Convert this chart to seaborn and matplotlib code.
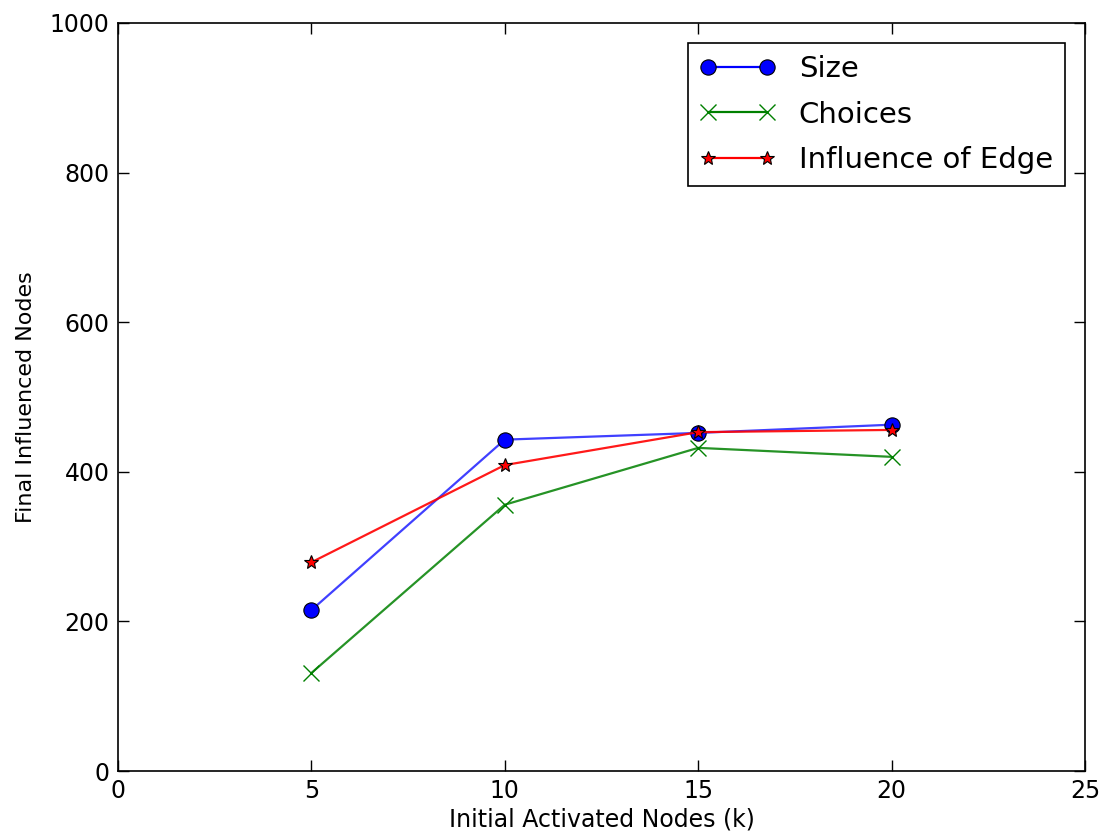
import matplotlib
matplotlib.use("Agg")
import matplotlib.pyplot as plt
import seaborn as sns
import pandas as pd
from matplotlib.lines import Line2D

k_values = [5, 10, 15, 20]
size_vals = [215, 443, 452, 463]
choices_vals = [131, 356, 432, 420]
edge_vals = [279, 409, 453, 456]
series_names = ["Size", "Choices", "Influence of Edge"]

sns.set_style("white")
plt.rcParams['font.family'] = ['DejaVu Sans']
plt.rcParams['text.color'] = 'black'
plt.rcParams['axes.labelcolor'] = 'black'

fig = plt.figure(figsize=(11.02, 8.35), dpi=100)
ax = fig.add_axes([0.107, 0.0766, 0.8776, 0.8959])

df = pd.DataFrame({
    "k": k_values * 3,
    "value": size_vals + choices_vals + edge_vals,
    "series": [series_names[0]] * 4 + [series_names[1]] * 4 + [series_names[2]] * 4,
})

styles = {
    "Size": dict(color="#0000ff", marker="o", ms=11, mec="black", mew=0.8, mfc="#0000ff", lw=1.6, alpha_line=0.75),
    "Choices": dict(color="#008000", marker="x", ms=11, mec="#008000", mew=1.0, mfc="#008000", lw=1.6, alpha_line=0.85),
    "Influence of Edge": dict(color="#ff0000", marker="*", ms=10, mec="black", mew=0.8, mfc="#ff0000", lw=1.6, alpha_line=0.9),
}

handles = []
for name in series_names:
    st = styles[name]
    sub = df[df["series"] == name]
    sns.lineplot(data=sub, x="k", y="value", ax=ax, color=st["color"], lw=st["lw"],
                 legend=False, errorbar=None)
    ax.lines[-1].set_alpha(st["alpha_line"])
    sns.lineplot(data=sub, x="k", y="value", ax=ax, color=st["color"], lw=0,
                 marker=st["marker"], markersize=st["ms"], markeredgecolor=st["mec"],
                 markeredgewidth=st["mew"], markerfacecolor=st["mfc"], legend=False, errorbar=None)
    h = Line2D([0, 1], [0, 0], color=st["color"], lw=st["lw"], alpha=1.0,
               marker=st["marker"], markersize=st["ms"], markeredgecolor=st["mec"],
               markeredgewidth=st["mew"], markerfacecolor=st["mfc"])
    handles.append(h)

ax.set_xlim(0, 25)
ax.set_ylim(0, 1000)
ax.set_xticks([0, 5, 10, 15, 20, 25])
ax.set_yticks([0, 200, 400, 600, 800, 1000])
ax.tick_params(direction="in", length=8, width=1, top=True, right=True, labelsize=17, pad=6,
               bottom=True, left=True, colors="black")
for sp in ax.spines.values():
    sp.set_color("black")
    sp.set_linewidth(1.2)
ax.set_xlabel("Initial Activated Nodes (k)", fontsize=17, labelpad=3)
ax.set_ylabel("Final Influenced Nodes", fontsize=16, labelpad=10)

leg = ax.legend(handles, series_names, loc="upper right", fontsize=21, numpoints=2,
                frameon=True, fancybox=False, borderaxespad=0.7, handlelength=2.6,
                labelspacing=0.6, borderpad=0.4, handletextpad=0.8)
leg.get_frame().set_edgecolor("black")
leg.get_frame().set_linewidth(1.2)
leg.get_frame().set_alpha(1)

fig.savefig("out.png", dpi=100)
